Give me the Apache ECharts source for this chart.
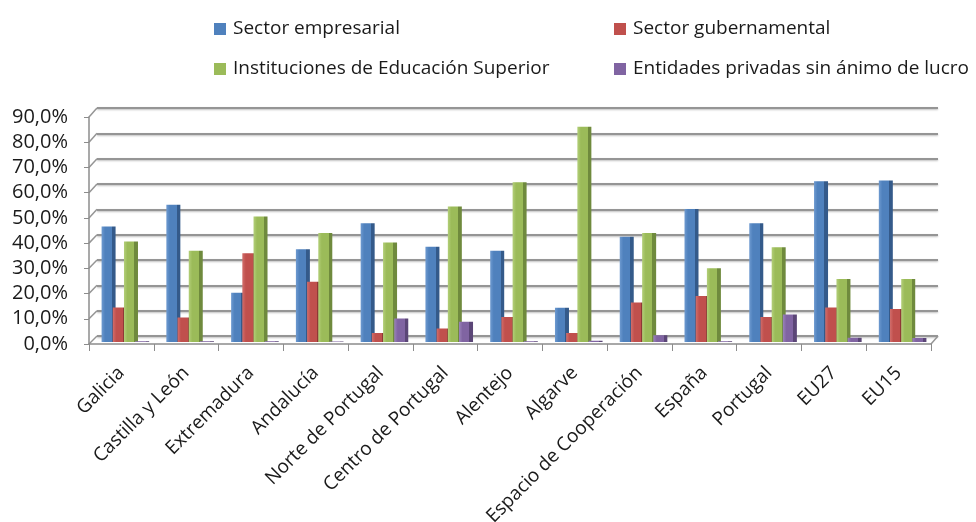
<!DOCTYPE html>
<html>
<head>
<meta charset="utf-8">
<script src="https://cdn.jsdelivr.net/npm/echarts@6/dist/echarts.min.js"></script>
<style>html,body{margin:0;padding:0;background:#fff;}#c{width:976px;height:522px;}</style>
</head>
<body>
<div id="c"></div>
<script>
var categories = ["Galicia","Castilla y León","Extremadura","Andalucía","Norte de Portugal","Centro de Portugal","Alentejo","Algarve","Espacio de Cooperación","España","Portugal","EU27","EU15"];
var seriesNames = ["Sector empresarial","Sector gubernamental","Instituciones de Educación Superior","Entidades privadas sin ánimo de lucro"];
var empresarial   = [45.3, 53.8, 19.3, 36.4, 46.6, 37.4, 35.8, 13.4, 41.3, 52.2, 46.6, 63.0, 63.3];
var gubernamental = [13.5,  9.6, 34.8, 23.6,  3.5,  5.3,  9.8,  3.5, 15.5, 18.0,  9.8, 13.5, 12.9];
var educacion     = [39.4, 35.8, 49.2, 42.7, 39.0, 53.1, 62.6, 84.4, 42.7, 28.9, 37.2, 24.7, 24.7];
var privadas      = [ 0.3,  0.3,  0.3,  0.2,  9.2,  7.9,  0.3,  0.5,  2.6,  0.3, 10.8,  1.7,  1.6];
var yTicks = [0,10,20,30,40,50,60,70,80,90];

var colors = ["#4F81BD","#C0504D","#9BBB59","#8064A2"];
var darks  = ["#345A8A","#8E3835","#6F8A3D","#5B4677"];
var lights = ["#6E9AD0","#D26E6B","#B3CF79","#9A82BA"];
var values = [empresarial, gubernamental, educacion, privadas];
var font = "'Open Sans', sans-serif";

function grad(i){
  return {type:'linear',x:0,y:0,x2:1,y2:0,colorStops:[
    {offset:0,color:lights[i]},{offset:0.25,color:colors[i]},{offset:0.74,color:colors[i]},
    {offset:0.74,color:darks[i]},{offset:1,color:darks[i]}]};
}

var series = seriesNames.map(function(n,i){
  return {name:n,type:'bar',xAxisIndex:2,yAxisIndex:2,data:values[i],
    barWidth:14,barGap:'-20%',itemStyle:{color:grad(i)}};
});
series.push({type:'line',xAxisIndex:0,yAxisIndex:0,data:[],silent:true});
series.push({type:'line',xAxisIndex:1,yAxisIndex:1,data:[],silent:true});

var legendText = {fontFamily:font,fontSize:19,color:'#1a1a1a',lineHeight:20,padding:[0,0,0,2]};
var chart = echarts.init(document.getElementById('c'));
chart.setOption({
  animation:false,
  textStyle:{fontFamily:font},
  legend:[
    {left:214,top:19,padding:0,orient:'vertical',itemGap:20,itemWidth:12,itemHeight:12,icon:'rect',textStyle:legendText,
     data:[{name:seriesNames[0],itemStyle:{color:colors[0]}},{name:seriesNames[2],itemStyle:{color:colors[2]}}]},
    {left:614,top:19,padding:0,orient:'vertical',itemGap:20,itemWidth:12,itemHeight:12,icon:'rect',textStyle:legendText,
     data:[{name:seriesNames[1],itemStyle:{color:colors[1]}},{name:seriesNames[3],itemStyle:{color:colors[3]}}]}
  ],
  grid:[
    {left:89,right:45,top:117,bottom:178,outerBoundsMode:'none',containLabel:false},
    {left:97,right:38,top:108,bottom:186,outerBoundsMode:'none',containLabel:false},
    {left:93,right:41,top:112.5,bottom:180,outerBoundsMode:'none',containLabel:false}
  ],
  xAxis:[
    {gridIndex:0,type:'category',data:categories,
     axisLine:{lineStyle:{color:'#8c8c8c',width:1.5}},
     axisTick:{show:true,length:7,lineStyle:{color:'#8c8c8c'}},
     axisLabel:{rotate:45,fontSize:19,color:'#1a1a1a',fontFamily:font,margin:26,interval:0}},
    {gridIndex:1,type:'category',data:categories,show:false},
    {gridIndex:2,type:'category',data:categories,show:false}
  ],
  yAxis:[
    {gridIndex:0,type:'value',min:0,max:90,interval:10,
     axisLine:{show:true,lineStyle:{color:'#8c8c8c',width:1.5}},
     axisTick:{show:true,length:5,lineStyle:{color:'#8c8c8c'}},
     splitLine:{show:false},
     axisLabel:{fontSize:20,color:'#1a1a1a',fontFamily:font,margin:21,
       formatter:function(v){return v.toFixed(1).replace('.',',')+'%';}}},
    {gridIndex:1,type:'value',min:0,max:90,interval:10,
     axisLine:{show:false},
     axisTick:{show:false},axisLabel:{show:false},
     splitLine:{show:true,lineStyle:{color:'#959595',width:2,shadowColor:'rgba(0,0,0,0.25)',shadowBlur:2,shadowOffsetY:1}}},
    {gridIndex:2,type:'value',min:0,max:90,interval:10,show:false,splitLine:{show:false}}
  ],
  series:series
});

// 3D-wall connectors derived from the axes' scales
var r0 = chart.getModel().getComponent('grid',0).coordinateSystem.getRect();
var r1 = chart.getModel().getComponent('grid',1).coordinateSystem.getRect();
var els = [];
var lineStyle = {stroke:'#959595',lineWidth:1.5};
yTicks.forEach(function(v){
  var yf = chart.convertToPixel({yAxisIndex:0}, v);
  var yb = chart.convertToPixel({yAxisIndex:1}, v);
  els.push({type:'line',shape:{x1:r0.x,y1:yf,x2:r1.x,y2:yb},style:lineStyle,silent:true});
});
var yf0 = chart.convertToPixel({yAxisIndex:0}, 0);
var yb0 = chart.convertToPixel({yAxisIndex:1}, 0);
els.push({type:'line',shape:{x1:r0.x+r0.width,y1:yf0,x2:r1.x+r1.width,y2:yb0},style:lineStyle,silent:true});
chart.setOption({graphic:els});
</script>
</body>
</html>
